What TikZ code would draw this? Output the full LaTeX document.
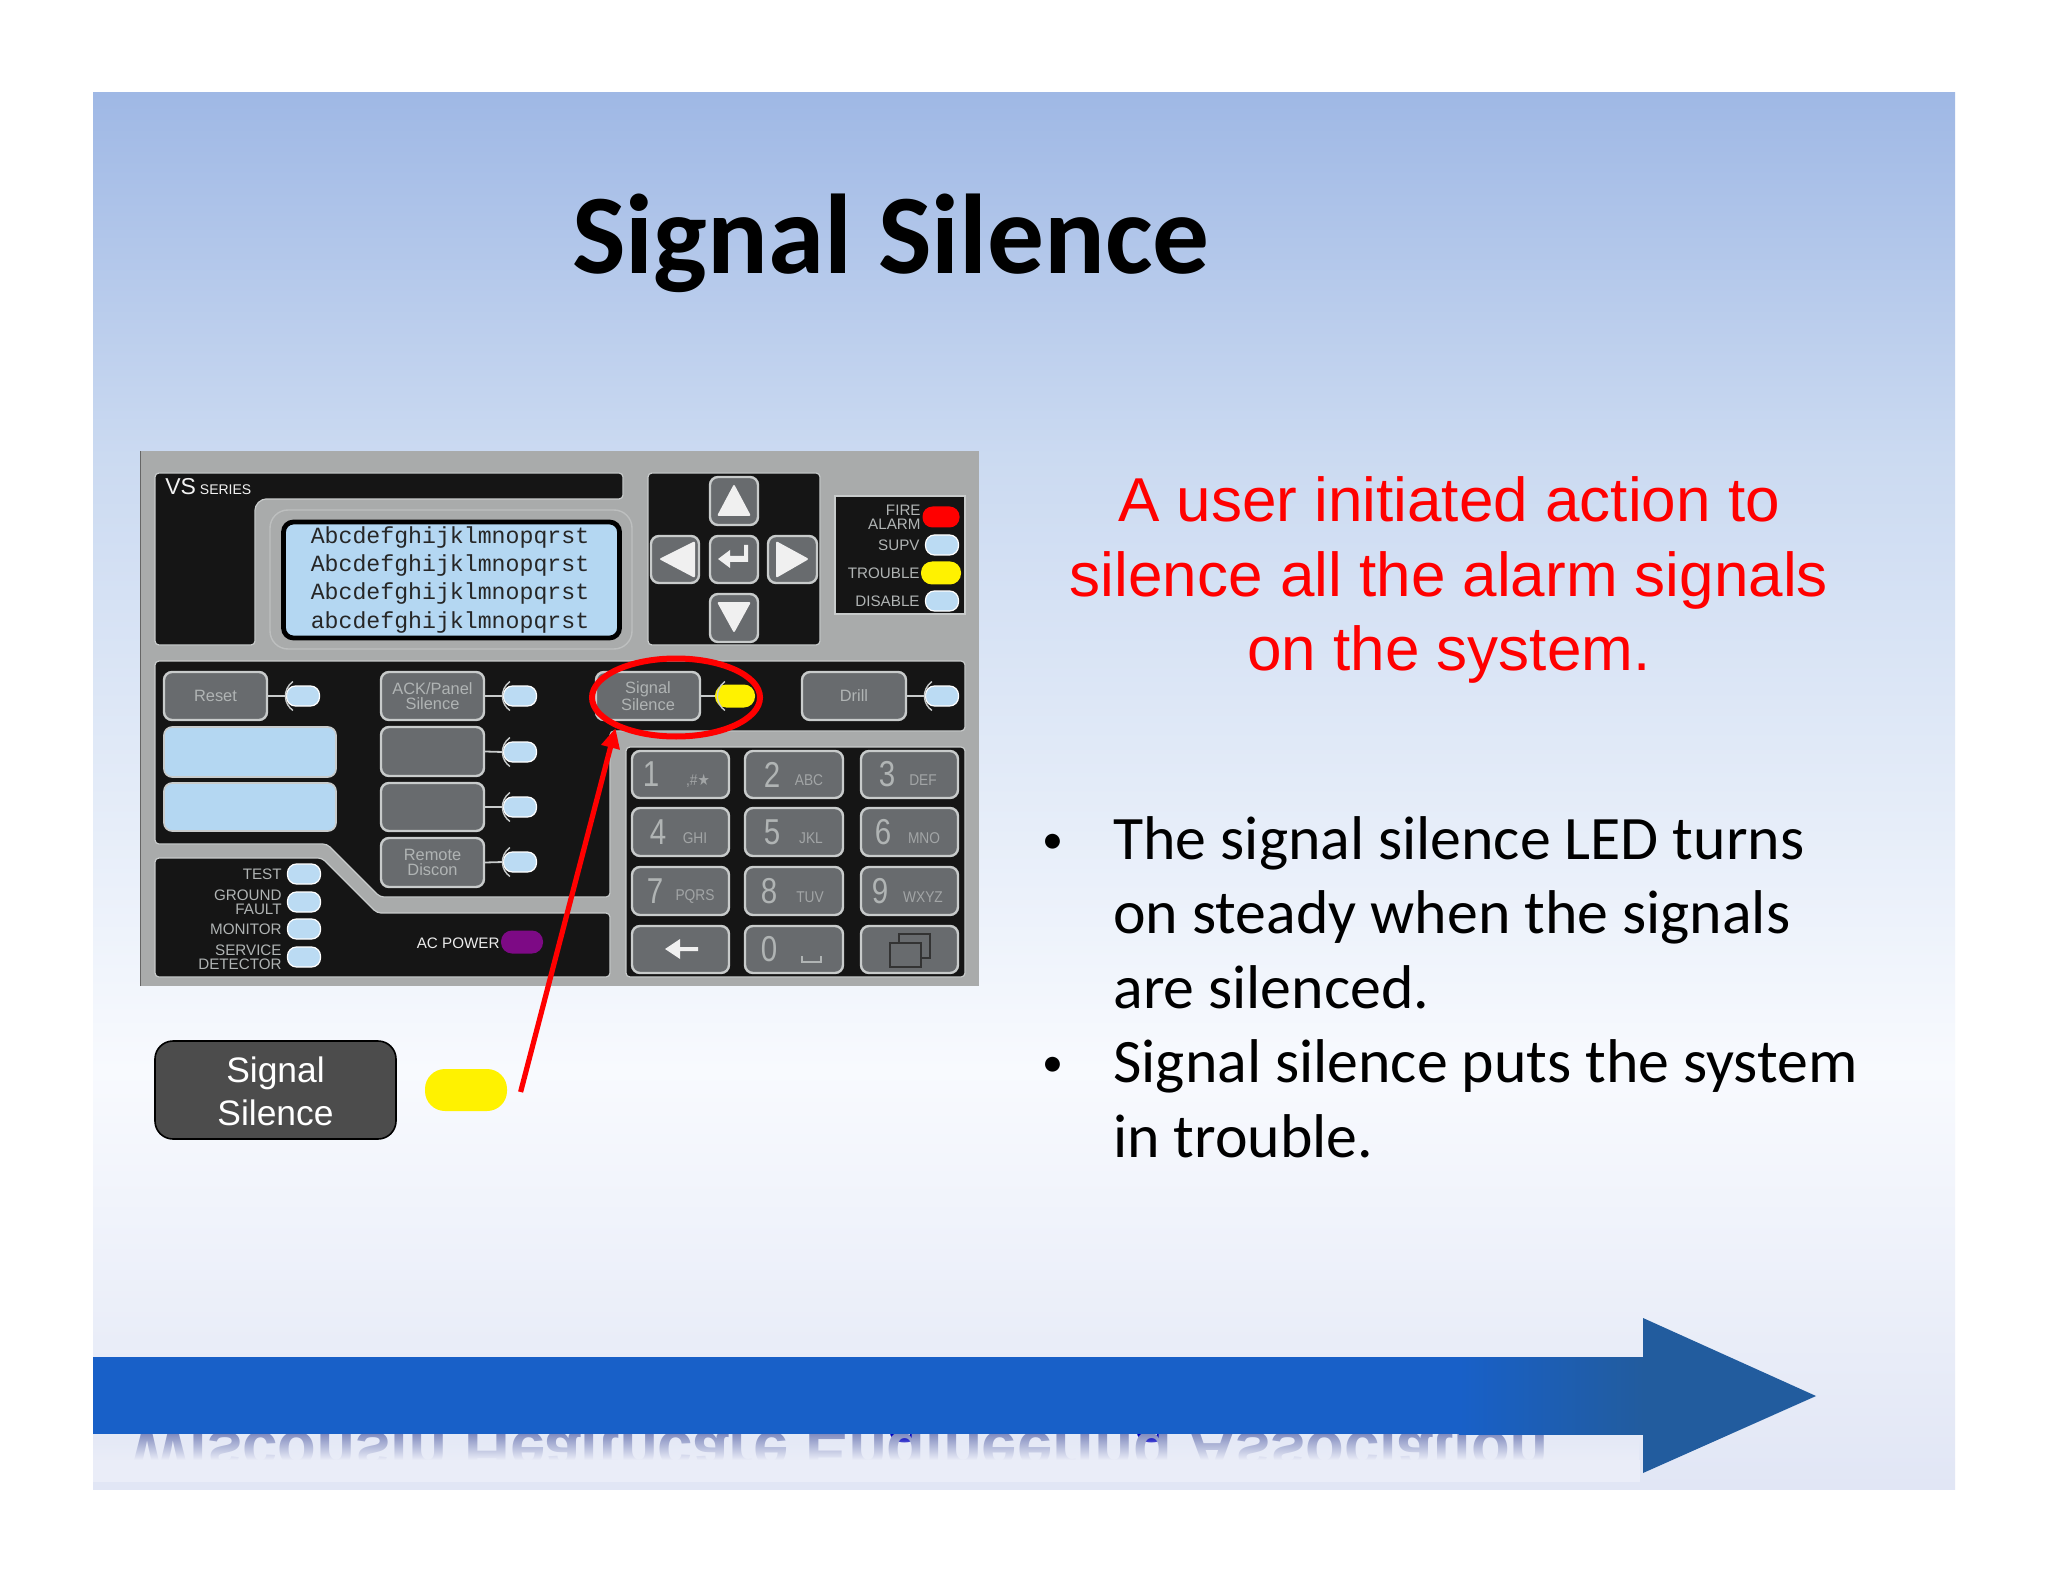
\documentclass[tikz,border=0pt]{standalone}
\usepackage{fontspec}
\setmainfont{Liberation Sans}
\newfontfamily\calf{Carlito}
\newfontfamily\lmono{Liberation Mono}
\newfontfamily\dvs{DejaVu Sans}
\usetikzlibrary{fadings,arrows.meta,shapes.geometric}
\definecolor{panelg}{HTML}{A9ABAB}
\definecolor{blk}{HTML}{151515}
\definecolor{btnf}{HTML}{686B6E}
\definecolor{btnl}{HTML}{C8CBCB}
\definecolor{framel}{HTML}{BDBFBF}
\definecolor{ledb}{HTML}{BBDBF3}
\definecolor{txtl}{HTML}{B0B4B4}
\definecolor{barb}{HTML}{1860C8}
\definecolor{barh}{HTML}{225C9E}
\definecolor{pal}{HTML}{B4D7F2}
\definecolor{bga}{RGB}{225,230,245}
\definecolor{bgb}{RGB}{248,250,254}
\definecolor{bgc}{RGB}{203,218,241}
\definecolor{bgd}{RGB}{159,184,229}
\definecolor{footbg}{RGB}{234,237,248}
\definecolor{footr}{RGB}{132,142,192}
\definecolor{acp}{HTML}{7D0A85}
\pgfdeclareverticalshading{bgshade}{100bp}{
 color(0bp)=(bga);
 color(25bp)=(bga);
 color(40bp)=(bgb);
 color(62bp)=(bgc);
 color(75bp)=(bgd);
 color(100bp)=(bgd)}
\tikzset{
 x=0.5pt,y=-0.5pt,
 btn/.style={draw=btnl,line width=1.2pt,fill=btnf,rounded corners=4pt,inner sep=0pt,align=center,text=txtl,font=\fontsize{8.2}{7.5}\selectfont},
 pale/.style={draw=btnl,line width=0.8pt,fill=pal,rounded corners=4pt,inner sep=0pt},
 led/.style={fill=ledb,draw=white,line width=0.6pt,rounded corners=4.5pt,minimum width=16.5pt,minimum height=10pt,inner sep=0pt},
 ledy/.style={fill=yellow,rounded corners=5.5pt,minimum width=20pt,minimum height=11.5pt,inner sep=0pt},
 lbl/.style={anchor=east,inner sep=0pt,text=txtl,font=\fontsize{7.6}{6.8}\selectfont,align=right},
 wire/.style={draw=btnl,line width=0.9pt},
 brace/.style={draw=btnl,line width=0.7pt},
 dig/.style={inner sep=0pt,text=txtl,font=\fontsize{18}{18}\selectfont},
 lett/.style={inner sep=0pt,text=txtl!80!btnf,font=\fontsize{7.8}{8}\selectfont},
 lcd/.style={inner sep=0pt,anchor=center,font=\lmono\fontsize{11.6}{11.6}\selectfont,text=black!85},
 glyph/.style={fill=white!88!gray},
 bultext/.style={anchor=base west,inner sep=0pt,font=\calf\fontsize{30.9}{31}\selectfont},
 bulmark/.style={anchor=base,inner sep=0pt,font=\calf\fontsize{21}{21}\selectfont},
 redtext/.style={anchor=base,inner sep=0pt,text=red,font=\fontsize{31}{31}\selectfont},
 bigbtn/.style={draw=black,line width=0.8pt,fill=black!70,rounded corners=9pt,inner sep=0pt},
 biglbl/.style={text=white,align=center,inner sep=0pt,font=\fontsize{17.7}{21.5}\selectfont},
}
\newcommand{\bx}[6][btn]{\node[#1,minimum width={(#5-#3)*0.5pt},minimum height={(#6-#4)*0.5pt}] (#2) at ({(#3+#5)/2},{(#4+#6)/2}) {};}
\newcommand{\btx}[7][btn]{\node[#1,minimum width={(#5-#3)*0.5pt},minimum height={(#6-#4)*0.5pt}] (#2) at ({(#3+#5)/2},{(#4+#6)/2}) {#7};}
\newcommand{\linkled}[2]{\draw[wire] (#1.east) -- (#2.west);\draw[brace] (#2.center) ++(125:8.8pt) arc[start angle=125,end angle=235,radius=8.8pt];}
\newcommand{\kk}[8]{\bx{#1}{#2}{#3}{#4}{#5}
 \node[dig] (#1d) at (#6,{(#3+#5)/2}) {\scalebox{0.82}[1]{#7}};
 \node[lett] (#1l) at (#8,{(#3+#5)/2+6}) {\scalebox{0.88}[1]{\keylett}};}
\begin{document}
\begin{tikzpicture}
\useasboundingbox (0,0) rectangle (2048,1582);
\fill[white] (0,0) rectangle (2048,1582);
\shade[shading=bgshade,shading angle=0] (93,93) rectangle (1955,1489);

% original footer text and its reflection
\node[anchor=base west,inner sep=0pt,text=blue!75!black,font=\bfseries] (foot) at (130,1429) {\resizebox{709pt}{!}{Wisconsin Healthcare Engineering Association}};
\begin{scope}
\clip (93,1430) rectangle (1640,1480);
\begin{scope}[shift={(130,1432)},yscale=-1,transform shape]
\node[anchor=base west,inner sep=0pt,text=footr,font=\bfseries] (footr) at (0,0) {\resizebox{709pt}{!}{Wisconsin Healthcare Engineering Association}};
\end{scope}
\end{scope}
\fill[color=footbg,path fading=north] (93,1434) rectangle (1640,1460);
\fill[color=footbg] (93,1460) rectangle (1640,1482);

% arrow
\fill[barb] (93,1357) rectangle (1460,1434);
\shade[left color=barb,right color=barh] (1459,1357) rectangle (1644,1434);
\fill[barh] (1643,1318) -- (1816,1396) -- (1643,1473) -- cycle;

% title
\node[anchor=base,inner sep=0pt,font=\calf\bfseries\fontsize{56.7}{57}\selectfont] (title) at (891,274) {Signal Silence};

% panel
\fill[panelg] (140,451) rectangle (979,986);
\draw[black!60,line width=0.5pt] (140,986) -- (140,451);
% top-left L
\draw[fill=blk,rounded corners=2pt,draw=btnl,line width=0.6pt] (155,473) -- (623,473) -- (623,499) -- (262,499) -- (255,506) -- (255,645) -- (155,645) -- cycle;
% display
\node[draw=framel,fill=panelg,line width=0.7pt,rounded corners=9pt,minimum width=181pt,minimum height=69.5pt,inner sep=0pt] (dispf) at (451,579.5) {};
\node[draw=black,line width=2.4pt,fill=pal,rounded corners=5pt,minimum width=168pt,minimum height=58pt,inner sep=0pt] (disp) at (451.5,580) {};
\node[lcd] (l1) at (450,538) {Abcdefghijklmnopqrst};
\node[lcd] (l2) at (450,566) {Abcdefghijklmnopqrst};
\node[lcd] (l3) at (450,594) {Abcdefghijklmnopqrst};
\node[lcd] (l4) at (450,623) {abcdefghijklmnopqrst};
\node[anchor=base west,inner sep=0pt,text=white!90!gray,font=\fontsize{11.5}{12}\selectfont] (vs) at (165,495) {VS\,\fontsize{7}{8}\selectfont SERIES};

% nav block
\bx[draw=btnl,fill=blk,line width=0.6pt,rounded corners=2pt,inner sep=0pt]{nav}{648}{473}{820}{645}
\bx{up}{710}{477}{758}{525}
\bx{lf}{651}{536}{699}{583}
\bx{ce}{710}{536}{758}{583}
\bx{rt}{768}{536}{817}{583}
\bx{dn}{710}{594}{758}{642}
\fill[glyph,rounded corners=1pt] (734,484) -- (751,516) -- (717,516) -- cycle;
\fill[glyph,rounded corners=1pt] (659,559) -- (695,541) -- (695,578) -- cycle;
\fill[glyph,rounded corners=1pt] (809,559) -- (776,541) -- (776,578) -- cycle;
\fill[glyph,rounded corners=1pt] (734,633) -- (717,602) -- (751,602) -- cycle;
\fill[glyph] (718,559) -- (730,550) -- (730,556) -- (744,556) -- (744,545) -- (748,545) -- (748,562) -- (730,562) -- (730,568) -- cycle;

% status block
\bx[draw=btnl,fill=blk,line width=0.6pt,inner sep=0pt]{stat}{835}{496}{965}{614}
\node[lbl] (tfire) at (921,517.5) {FIRE\\ALARM};
\node[lbl] (tsup) at (920,545) {SUPV};
\node[lbl] (ttro) at (920,573) {TROUBLE};
\node[lbl] (tdis) at (920,601) {DISABLE};
\node[fill=red,rounded corners=5pt,minimum width=18.5pt,minimum height=10.5pt,inner sep=0pt] (ledf) at (941,517) {};
\node[led] (leds) at (942,545) {};
\node[ledy] (ledt) at (941,573) {};
\node[led] (ledd) at (942,601) {};

% middle band
\draw[fill=blk,draw=btnl,line width=0.6pt,rounded corners=2pt] (155,661) -- (965,661) -- (965,731) -- (610,731) -- (610,897) -- (380,897) -- (327,844) -- (155,844) -- cycle;
\draw[fill=blk,draw=btnl,line width=0.6pt,rounded corners=2pt] (155,858) -- (322,858) -- (377,913) -- (610,913) -- (610,977) -- (155,977) -- cycle;
\draw[fill=blk,draw=btnl,line width=0.6pt,rounded corners=2pt] (626,747) -- (965,747) -- (965,977) -- (626,977) -- cycle;

% top row buttons
\btx{reset}{164}{672}{267}{720}{Reset}
\btx{ack}{381}{672}{484}{720}{ACK/Panel\\Silence}
\btx{sig}{596}{672}{700}{720}{Signal\\Silence}
\btx{drill}{802}{672}{906}{720}{Drill}
\node[led] (lreset) at (303,696) {};
\node[led] (lack) at (520,696) {};
\node[ledy] (lsig) at (735,696) {};
\node[led] (ldrill) at (942,696) {};
\linkled{reset}{lreset}
\linkled{ack}{lack}
\linkled{sig}{lsig}
\linkled{drill}{ldrill}
\bx[pale]{pa}{164}{727}{336}{777}
\bx[pale]{pb}{164}{783}{336}{831}
\bx{bb}{381}{727}{484}{776}
\bx{bc}{381}{783}{484}{831}
\btx{rem}{381}{838}{484}{887}{Remote\\Discon}
\node[led] (lbb) at (520,752) {};
\node[led] (lbc) at (520,807) {};
\node[led] (lrem) at (520,862) {};
\linkled{bb}{lbb}
\linkled{bc}{lbc}
\linkled{rem}{lrem}

% lower-left block
\node[lbl] (ttest) at (282,874) {TEST};
\node[lbl] (tgnd) at (282,902) {GROUND\\FAULT};
\node[lbl] (tmon) at (282,929) {MONITOR};
\node[lbl] (tsvc) at (282,957) {SERVICE\\DETECTOR};
\node[led] (ltest) at (304,874) {};
\node[led] (lgnd) at (304,902) {};
\node[led] (lmon) at (304,929) {};
\node[led] (lsvc) at (304,957) {};
\node[lbl,text=white!85!gray] (tac) at (500,943) {AC POWER};
\node[fill=acp,rounded corners=5.5pt,minimum width=21pt,minimum height=11.5pt,inner sep=0pt] (lac) at (522,942) {};

% keypad
\def\keylett{,\#{\dvs\char"2605}}
\kk{k1}{632}{751}{729}{798}{651}{1}{698}
\def\keylett{ABC}\kk{k2}{745}{751}{843}{798}{772}{2}{809}
\def\keylett{DEF}\kk{k3}{861}{751}{958}{798}{887}{3}{923}
\def\keylett{GHI}\kk{k4}{632}{808}{729}{856}{658}{4}{695}
\def\keylett{JKL}\kk{k5}{745}{808}{843}{856}{772}{5}{811}
\def\keylett{MNO}\kk{k6}{861}{808}{958}{856}{883}{6}{924}
\def\keylett{PQRS}\kk{k7}{632}{867}{729}{915}{655}{7}{695}
\def\keylett{TUV}\kk{k8}{745}{867}{843}{915}{769}{8}{810}
\def\keylett{WXYZ}\kk{k9}{861}{867}{958}{915}{880}{9}{923}
\bx{kb}{632}{926}{729}{973}
\bx{k0}{745}{926}{843}{973}
\bx{kw}{861}{926}{958}{973}
\node[dig] (k0d) at (769,949) {\scalebox{0.82}[1]{0}};
\fill[glyph] (665,949) -- (680,939) -- (680,947) -- (698,947) -- (698,951) -- (680,951) -- (680,959) -- cycle;
\draw[txtl,line width=0.9pt] (802,956) -- (802,962) -- (821,962) -- (821,956);
\draw[black!80,line width=1.1pt] (899,934) rectangle (930,958);
\draw[black!80,fill=btnf,line width=1.1pt] (890,943) rectangle (921,967);

% signal silence button
\node[bigbtn,minimum width=120.5pt,minimum height=49pt] (big) at (275.5,1090) {};
\node[biglbl] (bigt) at (275.5,1091) {Signal\\Silence};
\node[fill=yellow,rounded corners=10pt,minimum width=41pt,minimum height=21pt,inner sep=0pt] (bigled) at (466,1090) {};

% red ellipse and arrow
\node[draw=red,line width=3pt,ellipse,minimum width=84pt,minimum height=39pt,inner sep=0pt] (ring) at (676,697.5) {};
\coordinate (astart) at (520.6,1092);
\coordinate (atip) at (615.5,728);
\draw[red,line width=2.6pt,-{Triangle[length=10pt,width=9pt]}] (astart) -- (atip);

% red text
\node[redtext] (r1) at (1449,521.5) {A user initiated action to};
\node[redtext] (r2) at (1449,596.5) {silence all the alarm signals};
\node[redtext] (r3) at (1449,670.5) {on the system.};

% bullets
\node[bulmark] (b1) at (1053,853) {•};
\node[bultext] (t1) at (1113,859) {The signal silence LED turns};
\node[bultext] (t2) at (1113,933.5) {on steady when the signals};
\node[bultext] (t3) at (1113,1008) {are silenced.};
\node[bulmark] (b2) at (1053,1076) {•};
\node[bultext] (t4) at (1113,1082) {Signal silence puts the system};
\node[bultext] (t5) at (1113,1157) {in trouble.};
\end{tikzpicture}
\end{document}
